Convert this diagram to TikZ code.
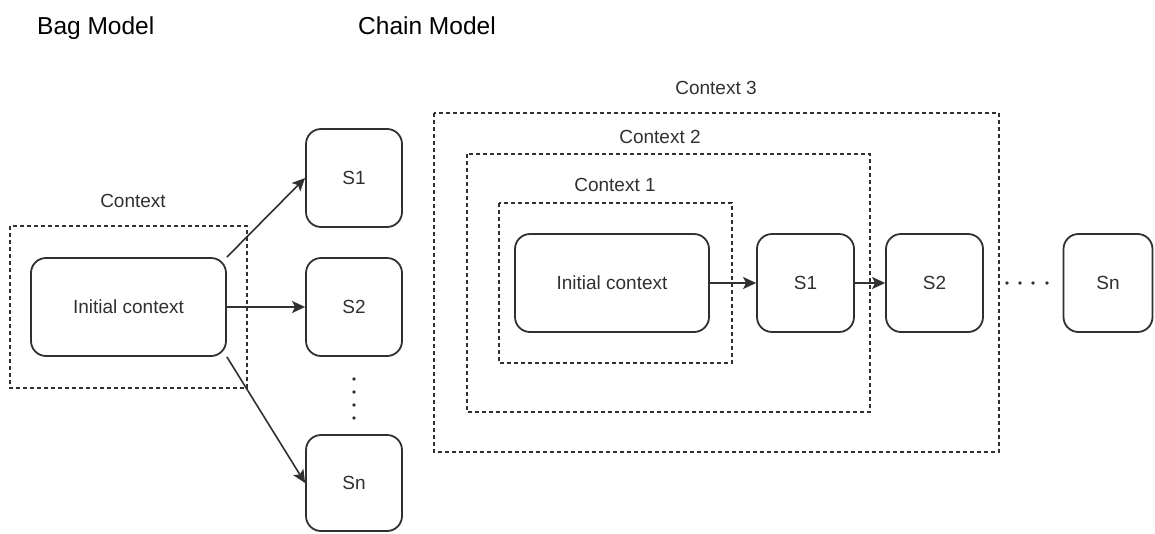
\documentclass[tikz,border=0pt]{standalone}
\usepackage{fontspec}
\setmainfont{Liberation Sans}
\usetikzlibrary{arrows.meta}
\definecolor{ink}{HTML}{303030}
\tikzset{
  title/.style={font=\fontsize{24.5}{29}\selectfont, text=black, inner sep=0pt, anchor=base west},
  lbl/.style={font=\fontsize{19}{23}\selectfont, text=ink, inner sep=0pt},
  sbox/.style={draw=ink, line width=1.8pt, rounded corners=15pt, fill=white, inner sep=0pt,
    font=\fontsize{19}{23}\selectfont, text=ink},
  ctxbox/.style={draw=ink, line width=1.5pt, dash pattern=on 4pt off 3pt},
  arr/.style={draw=ink, line width=1.6pt, -{Stealth[length=13pt,width=12pt,inset=3pt]}},
  dot/.style={circle, fill=ink, inner sep=0pt, minimum size=3.8pt},
}
\begin{document}
\begin{tikzpicture}[x=1pt, y=-1pt]
\useasboundingbox (0,0) rectangle (1155,533);

% ---------- Bag model ----------
\node[title] (bagtitle) at (37,34) {Bag Model};
\draw[ctxbox] (10,226) rectangle (247,388);
\node[lbl] (bagctx) at (133,201) {Context};
\node[sbox, minimum width=195pt, minimum height=98pt] (bic) at (128.5,307) {Initial context};
\node[sbox, minimum width=96pt, minimum height=98pt] (bs1) at (354,178) {S1};
\node[sbox, minimum width=96pt, minimum height=98pt] (bs2) at (354,307) {S2};
\node[sbox, minimum width=96pt, minimum height=96pt] (bsn) at (354,483) {Sn};
\foreach \yy [count=\i] in {379,392,405,418} \node[dot] (bd\i) at (354,\yy) {};
\draw[arr] (bic.north east) -- (bs1.west);
\draw[arr] (bic.east) -- (bs2.west);
\draw[arr] (bic.south east) -- (bsn.west);

% ---------- Chain model ----------
\node[title] (chaintitle) at (358,34) {Chain Model};
\draw[ctxbox] (434,113) rectangle (999,452);
\draw[ctxbox] (467,154) rectangle (870,412);
\draw[ctxbox] (499,203) rectangle (732,363);
\node[lbl] (ctx3) at (716,88) {Context 3};
\node[lbl] (ctx2) at (660,137) {Context 2};
\node[lbl] (ctx1) at (615,185) {Context 1};
\node[sbox, minimum width=194pt, minimum height=98pt] (cic) at (612,283) {Initial context};
\node[sbox, minimum width=97pt, minimum height=98pt] (cs1) at (805.5,283) {S1};
\node[sbox, minimum width=97pt, minimum height=98pt] (cs2) at (934.5,283) {S2};
\node[sbox, minimum width=89pt, minimum height=98pt] (csn) at (1108,283) {Sn};
\foreach \xx [count=\i] in {1007,1020,1033,1047} \node[dot] (cd\i) at (\xx,283) {};
\draw[arr] (cic.east) -- (cs1.west);
\draw[arr] (cs1.east) -- (cs2.west);
\end{tikzpicture}
\end{document}
